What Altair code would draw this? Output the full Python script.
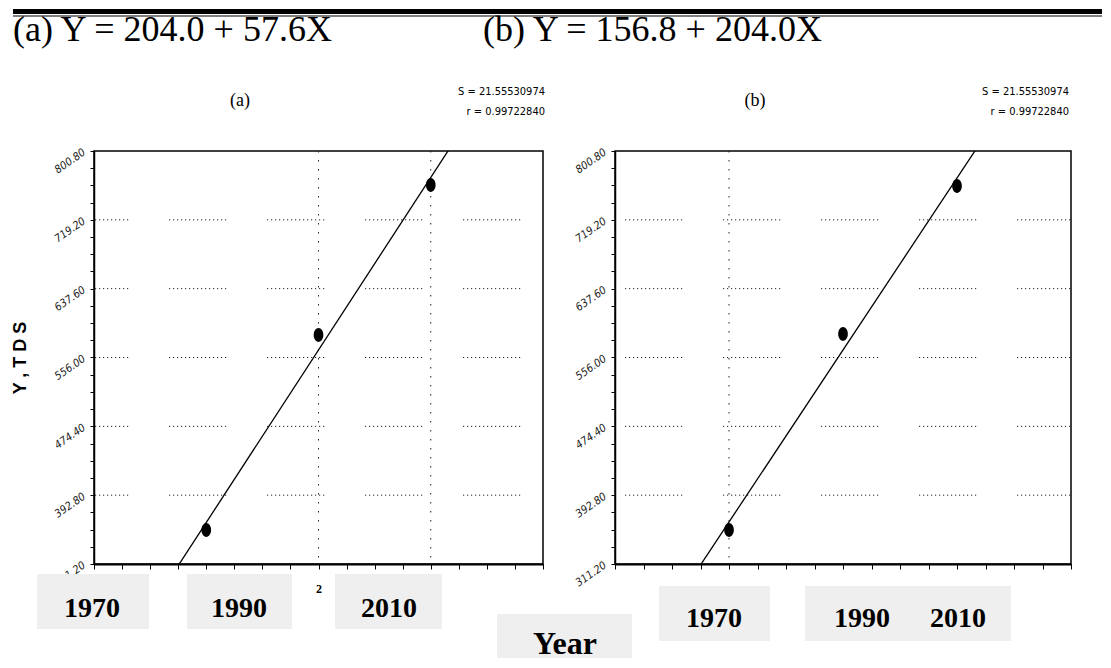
import altair as alt
import pandas as pd

# ---------------- data ----------------
X_VALUES = [1, 2, 3]
Y_A = [351.5, 582.7, 760.5]
Y_B = [351.5, 583.9, 759.3]
X_DOMAIN = [0, 4]
Y_DOMAIN = [311.2, 800.8]
X_TICKS = [0, 0.25, 0.5, 0.75, 1, 1.25, 1.5, 1.75, 2, 2.25, 2.5, 2.75, 3, 3.25, 3.5, 3.75, 4]
Y_MAJOR = ["311.20", "392.80", "474.40", "556.00", "637.60", "719.20", "800.80"]
Y_TICKS = [311.2, 331.6, 352.0, 372.4, 392.8, 413.2, 433.6, 454.0, 474.4, 494.8,
           515.2, 535.6, 556.0, 576.4, 596.8, 617.2, 637.6, 658.0, 678.4, 698.8,
           719.2, 739.6, 760.0, 780.4, 800.8]
Y_GRID = [392.8, 474.4, 556.0, 637.6, 719.2]
VGRID_A = [2, 3]
VGRID_B = [1]
EQ_A = "(a) Y = 204.0 + 57.6X"
EQ_B = "(b) Y = 156.8 + 204.0X"
TITLE_A = "(a)"
TITLE_B = "(b)"
STAT_S = "S = 21.55530974"
STAT_R = "r = 0.99722840"
YEARS = ["1970", "1990", "2010"]
X_TITLE = "Year"
Y_TITLE = "Y , T D S"

# ---------------- styles / layout ----------------
SERIF = "Liberation Serif, Times New Roman, serif"
SANS = "Liberation Sans, Arial, sans-serif"
NARROW = "Liberation Sans Narrow, DejaVu Sans Condensed, Liberation Sans, sans-serif"
GRID_DASH = [1.2, 2.8] * 14 + [1.2, 40.8]
H = 413
W_A = 449
W_B = 456
BOX_FILL = "#efefef"
ELLIPSE = "M0,-1A0.7,1 0 1,1 0,1A0.7,1 0 1,1 0,-1Z"

ONE = pd.DataFrame({"k": [0]})

Y_LABEL_EXPR = ("indexof([" + ",".join("'" + s + "'" for s in Y_MAJOR) +
                "], format(datum.value, '.2f')) >= 0 ? format(datum.value, '.2f') : ''")


def box(x0, x1, y0, y1):
    return alt.Chart(ONE).mark_rect(fill=BOX_FILL).encode(
        x=alt.value(x0), x2=alt.value(x1), y=alt.value(y0), y2=alt.value(y1))


def bar(x0, x1, y0, y1):
    return alt.Chart(ONE).mark_rect(fill="black").encode(
        x=alt.value(x0), x2=alt.value(x1), y=alt.value(y0), y2=alt.value(y1))


def label(text, x, y, size, font=SERIF, weight="normal", align="center",
          baseline="alphabetic", angle=None, style="normal", color="black"):
    kw = dict(text=text, fontSize=size, font=font, fontWeight=weight, align=align,
              baseline=baseline, color=color, fontStyle=style)
    if angle is not None:
        kw["angle"] = angle
    return alt.Chart(ONE).mark_text(**kw).encode(x=alt.value(x), y=alt.value(y))


def panel(ys, vgrid, width, dash_offset, x_label_expr, extras):
    df = pd.DataFrame({"X": X_VALUES, "Y": ys})
    xs = alt.Scale(domain=X_DOMAIN, nice=False, zero=False)
    ysc = alt.Scale(domain=Y_DOMAIN, nice=False, zero=False)
    xaxis = alt.Axis(values=X_TICKS, title=None, grid=False, tickSize=5, tickColor="black",
                     domainColor="black", domainWidth=2, labelExpr=x_label_expr,
                     labelFont=SERIF, labelFontSize=12, labelFontWeight="bold",
                     labelPadding=14, labelOverlap=False, labelFlush=False,
                     labelBaseline="top", labelColor="black")
    yaxis = alt.Axis(values=Y_TICKS, title=None, grid=False, tickSize=4, tickColor="black",
                     domainColor="black", domainWidth=1.5, labelExpr=Y_LABEL_EXPR,
                     labelAngle=325, labelAlign="right", labelBaseline="middle",
                     labelFont=NARROW, labelFontSize=11, labelFontStyle="italic",
                     labelColor="#222", labelPadding=6, labelOverlap=False)
    hgrid = alt.Chart(pd.DataFrame({"g": Y_GRID})).mark_rule(
        color="#222", strokeWidth=1, strokeDash=GRID_DASH, strokeDashOffset=dash_offset
    ).encode(y=alt.Y("g:Q", scale=ysc, axis=yaxis), x=alt.value(0), x2=alt.value(width))
    vg = alt.Chart(pd.DataFrame({"v": vgrid})).mark_rule(
        color="#222", strokeWidth=1, strokeDash=[1.5, 7.5]
    ).encode(x=alt.X("v:Q", scale=xs, axis=xaxis))
    base = alt.Chart(df)
    fit = base.transform_regression("X", "Y", extent=X_DOMAIN).mark_line(
        clip=True, color="black", strokeWidth=1.3
    ).encode(x=alt.X("X:Q", scale=xs, axis=xaxis), y=alt.Y("Y:Q", scale=ysc, axis=yaxis))
    pts = base.mark_point(shape=ELLIPSE, filled=True, size=190, color="black",
                          opacity=1, strokeWidth=0).encode(
        x=alt.X("X:Q", scale=xs, axis=xaxis), y=alt.Y("Y:Q", scale=ysc, axis=yaxis))
    return alt.layer(hgrid, vg, fit, pts, *extras).properties(width=width, height=H)


extras_a = [
    bar(-81, 1008, -142, -137),
    bar(-81, 1008, -135.5, -134.5),
    label(EQ_A, -81, -110, 36, align="left"),
    label(EQ_B, 389, -110, 36, align="left"),
    label(TITLE_A, 146, -50, 18, baseline="middle"),
    label(STAT_S, 451, -59, 11, font=NARROW, align="right", baseline="middle"),
    label(STAT_R, 451, -39, 11, font=NARROW, align="right", baseline="middle"),
    label(Y_TITLE, -73, 207, 18, font=SANS, weight="bold", baseline="middle", angle=270),
    box(-57, 55, 423, 478),
    box(93, 198, 423, 478),
    box(241, 348, 423, 478),
    label(YEARS[0], -2, 466, 28, weight="bold"),
    label(YEARS[1], 145, 466, 28, weight="bold"),
    label(YEARS[2], 295, 466, 28, weight="bold"),
    box(403, 538, 463, 507),
    label(X_TITLE, 471, 503, 32, weight="bold"),
]

extras_b = [
    label(TITLE_B, 140, -50, 18, baseline="middle"),
    label(STAT_S, 454, -59, 11, font=NARROW, align="right", baseline="middle"),
    label(STAT_R, 454, -39, 11, font=NARROW, align="right", baseline="middle"),
    box(44, 155, 435, 490),
    box(190, 396, 435, 490),
    label(YEARS[0], 99, 476, 28, weight="bold"),
    label(YEARS[1], 247, 476, 28, weight="bold"),
    label(YEARS[2], 343, 476, 28, weight="bold"),
]

panel_a = panel(Y_A, VGRID_A, W_A, 23, "datum.value == 2 ? '2' : ''", extras_a)
panel_b = panel(Y_B, VGRID_B, W_B, 88, "''", extras_b)

chart = alt.hconcat(panel_a, panel_b, spacing=72, bounds="flush").properties(
    padding={"left": 3, "top": 0, "right": 0, "bottom": 0}
).configure_view(stroke="black", strokeWidth=1.5)

chart.save("out.html", embed_options={"renderer": "svg", "actions": False})
